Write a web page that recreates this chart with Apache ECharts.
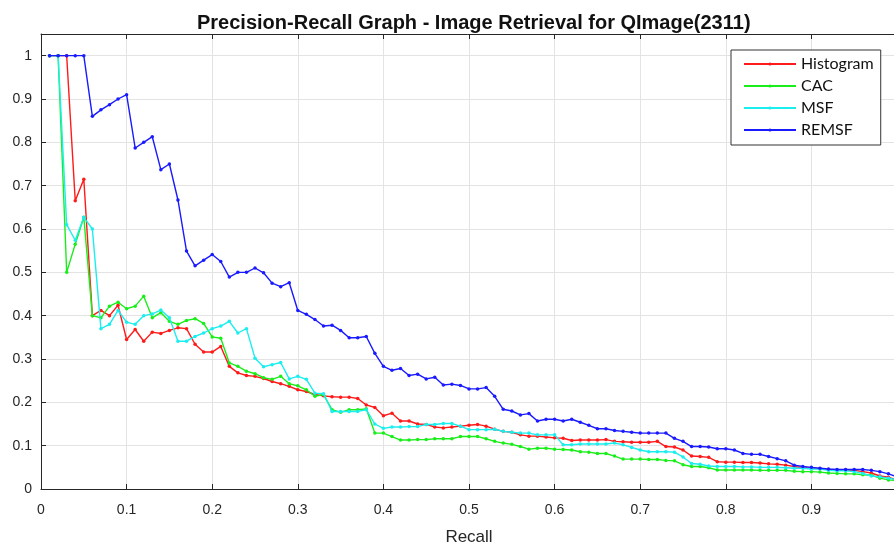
<!DOCTYPE html>
<html>
<head>
<meta charset="utf-8">
<script src="https://cdn.jsdelivr.net/npm/echarts@6/dist/echarts.min.js"></script>
<style>
  html, body { margin: 0; padding: 0; background: #fff; }
  #chart { width: 894px; height: 547px; }
</style>
</head>
<body>
<div id="chart"></div>
<script>
// recall positions (x)
var recall = [
  0.01, 0.02, 0.03, 0.04, 0.05, 0.06, 0.07, 0.08, 0.09, 0.10,
  0.11, 0.12, 0.13, 0.14, 0.15, 0.16, 0.17, 0.18, 0.19, 0.20,
  0.21, 0.22, 0.23, 0.24, 0.25, 0.26, 0.27, 0.28, 0.29, 0.30,
  0.31, 0.32, 0.33, 0.34, 0.35, 0.36, 0.37, 0.38, 0.39, 0.40,
  0.41, 0.42, 0.43, 0.44, 0.45, 0.46, 0.47, 0.48, 0.49, 0.50,
  0.51, 0.52, 0.53, 0.54, 0.55, 0.56, 0.57, 0.58, 0.59, 0.60,
  0.61, 0.62, 0.63, 0.64, 0.65, 0.66, 0.67, 0.68, 0.69, 0.70,
  0.71, 0.72, 0.73, 0.74, 0.75, 0.76, 0.77, 0.78, 0.79, 0.80,
  0.81, 0.82, 0.83, 0.84, 0.85, 0.86, 0.87, 0.88, 0.89, 0.90,
  0.91, 0.92, 0.93, 0.94, 0.95, 0.96, 0.97, 0.98, 0.99, 1.00
];

var histogram = [
  1, 1, 1, 0.665, 0.715, 0.40, 0.412, 0.40, 0.424, 0.345,
  0.368, 0.341, 0.362, 0.359, 0.366, 0.372, 0.37, 0.334, 0.316, 0.316,
  0.329, 0.283, 0.268, 0.262, 0.26, 0.255, 0.248, 0.243, 0.237, 0.229,
  0.225, 0.218, 0.215, 0.213, 0.212, 0.212, 0.209, 0.194, 0.188, 0.169,
  0.175, 0.157, 0.157, 0.15, 0.149, 0.143, 0.141, 0.143, 0.145, 0.147,
  0.149, 0.145, 0.138, 0.133, 0.131, 0.125, 0.122, 0.122, 0.12, 0.118,
  0.117, 0.112, 0.113, 0.113, 0.113, 0.114, 0.11, 0.109, 0.108, 0.108,
  0.108, 0.11, 0.098, 0.097, 0.09, 0.076, 0.075, 0.073, 0.063, 0.062,
  0.062, 0.061, 0.061, 0.06, 0.058, 0.057, 0.055, 0.052, 0.049, 0.048,
  0.047, 0.045, 0.044, 0.044, 0.043, 0.04, 0.037, 0.03, 0.027, 0.021
];

var cac = [
  1, 1, 0.5, 0.565, 0.627, 0.40, 0.395, 0.422, 0.431, 0.416,
  0.422, 0.445, 0.395, 0.407, 0.387, 0.38, 0.389, 0.393, 0.382, 0.351,
  0.348, 0.291, 0.283, 0.272, 0.266, 0.257, 0.253, 0.26, 0.243, 0.238,
  0.229, 0.214, 0.218, 0.183, 0.177, 0.183, 0.183, 0.185, 0.129, 0.129,
  0.121, 0.113, 0.113, 0.114, 0.114, 0.116, 0.116, 0.116, 0.121, 0.121,
  0.121, 0.116, 0.11, 0.106, 0.103, 0.098, 0.092, 0.094, 0.094, 0.092,
  0.091, 0.09, 0.086, 0.085, 0.082, 0.082, 0.076, 0.069, 0.069, 0.069,
  0.068, 0.068, 0.066, 0.065, 0.056, 0.052, 0.052, 0.049, 0.044, 0.044,
  0.044, 0.044, 0.044, 0.043, 0.043, 0.043, 0.043, 0.041, 0.04, 0.04,
  0.039, 0.037, 0.036, 0.035, 0.035, 0.033, 0.032, 0.025, 0.021, 0.02
];

var msf = [
  1, 1, 0.61, 0.574, 0.627, 0.60, 0.37, 0.38, 0.412, 0.385,
  0.38, 0.40, 0.404, 0.413, 0.395, 0.341, 0.341, 0.352, 0.36, 0.37,
  0.376, 0.387, 0.36, 0.37, 0.302, 0.282, 0.287, 0.292, 0.254, 0.26,
  0.253, 0.221, 0.22, 0.179, 0.179, 0.179, 0.179, 0.183, 0.15, 0.14,
  0.143, 0.143, 0.144, 0.144, 0.149, 0.149, 0.151, 0.151, 0.145, 0.137,
  0.137, 0.137, 0.138, 0.133, 0.131, 0.129, 0.129, 0.125, 0.125, 0.125,
  0.102, 0.102, 0.104, 0.104, 0.104, 0.104, 0.106, 0.102, 0.096, 0.09,
  0.086, 0.086, 0.086, 0.085, 0.074, 0.059, 0.057, 0.053, 0.052, 0.052,
  0.052, 0.051, 0.051, 0.05, 0.05, 0.05, 0.049, 0.048, 0.048, 0.046,
  0.046, 0.043, 0.042, 0.042, 0.04, 0.036, 0.03, 0.028, 0.025, 0.021
];

var remsf = [
  1, 1, 1, 1, 1, 0.86, 0.875, 0.887, 0.90, 0.91,
  0.787, 0.80, 0.813, 0.737, 0.75, 0.667, 0.549, 0.515, 0.528, 0.541,
  0.525, 0.489, 0.50, 0.50, 0.51, 0.499, 0.475, 0.467, 0.476, 0.412,
  0.403, 0.391, 0.376, 0.378, 0.366, 0.349, 0.349, 0.352, 0.313, 0.283,
  0.274, 0.278, 0.262, 0.265, 0.254, 0.258, 0.24, 0.242, 0.239, 0.231,
  0.231, 0.234, 0.214, 0.184, 0.18, 0.171, 0.174, 0.157, 0.161, 0.161,
  0.157, 0.161, 0.154, 0.147, 0.139, 0.139, 0.135, 0.133, 0.131, 0.129,
  0.129, 0.129, 0.129, 0.117, 0.11, 0.098, 0.098, 0.097, 0.093, 0.093,
  0.09, 0.082, 0.08, 0.08, 0.075, 0.07, 0.065, 0.055, 0.052, 0.05,
  0.048, 0.046, 0.045, 0.045, 0.045, 0.045, 0.043, 0.04, 0.035, 0.028
];

var seriesNames = ['Histogram', 'CAC', 'MSF', 'REMSF'];
var seriesValues = [histogram, cac, msf, remsf];
var seriesColors = ['#ff1a1a', '#1aee1a', '#1aeeee', '#1a1aff'];

function pairs(vals) {
  var res = [];
  for (var i = 0; i < recall.length; i++) {
    res.push([recall[i], vals[i]]);
  }
  return res;
}

var myChart = echarts.init(document.getElementById('chart'));

var series = [];
for (var n = 0; n < seriesNames.length; n++) {
  series.push({
    name: seriesNames[n],
    type: 'line',
    data: pairs(seriesValues[n]),
    symbol: 'circle',
    symbolSize: 3.5,
    showSymbol: true,
    animation: false,
    lineStyle: { color: seriesColors[n], width: 1.4 },
    itemStyle: { color: seriesColors[n] },
    z: 2 + n
  });
}

var axisColor = '#262626';
var fontFam = 'Liberation Sans, Arial, sans-serif';

var option = {
  backgroundColor: '#fff',
  title: {
    text: 'Precision-Recall Graph - Image Retrieval for QImage(2311)',
    left: 192,
    top: 8,
    textStyle: { fontFamily: fontFam, fontWeight: 'bold', fontSize: 20, color: '#111' }
  },
  legend: {
    orient: 'vertical',
    left: 731,
    top: 50,
    data: seriesNames,
    backgroundColor: '#fff',
    borderColor: '#333',
    borderWidth: 1,
    borderRadius: 0,
    padding: [6, 7, 7, 12],
    itemWidth: 52,
    itemHeight: 4,
    itemGap: 6,
    textStyle: { fontFamily: 'Lato, sans-serif', fontSize: 16, color: '#111' }
  },
  // the axes box runs a little past the right edge of the picture
  grid: { left: 41, width: 856, top: 34, bottom: 58, outerBoundsMode: 'none', containLabel: false },
  xAxis: [{
    type: 'value',
    min: 0,
    max: 1,
    interval: 0.1,
    name: 'Recall',
    nameLocation: 'middle',
    nameGap: 40,
    nameTextStyle: { fontFamily: fontFam, fontSize: 17, color: axisColor },
    axisLine: { lineStyle: { color: axisColor, width: 1 } },
    axisTick: { inside: true, length: 5, lineStyle: { color: axisColor } },
    axisLabel: { fontFamily: fontFam, fontSize: 14, color: axisColor, margin: 14, showMaxLabel: true, hideOverlap: false },
    splitLine: { show: true, lineStyle: { color: '#e3e3e3', width: 1 } }
  }, {
    type: 'value',
    position: 'top',
    min: 0,
    max: 1,
    interval: 0.1,
    axisLine: { show: true, lineStyle: { color: axisColor, width: 1 } },
    axisTick: { show: true, inside: true, length: 5, lineStyle: { color: axisColor } },
    axisLabel: { show: false },
    splitLine: { show: false }
  }],
  yAxis: {
    type: 'value',
    min: 0,
    max: 1.05,
    interval: 0.1,
    axisLine: { show: true, lineStyle: { color: axisColor, width: 1 } },
    axisTick: { show: true, inside: true, length: 5, lineStyle: { color: axisColor } },
    axisLabel: { fontFamily: fontFam, fontSize: 14, color: axisColor, margin: 9, showMaxLabel: false },
    splitLine: { show: true, lineStyle: { color: '#e3e3e3', width: 1 } }
  },
  series: series
};

myChart.setOption(option);
</script>
</body>
</html>
